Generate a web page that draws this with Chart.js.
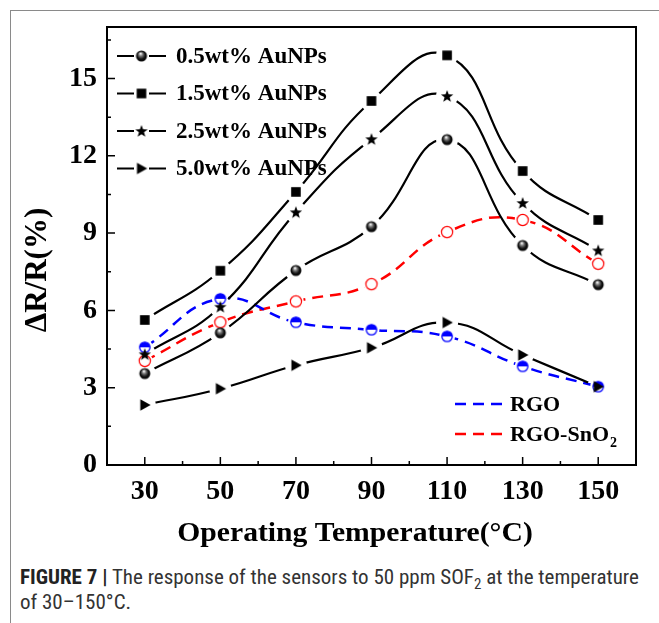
<!DOCTYPE html>
<html>
<head>
<meta charset="utf-8">
<script src="https://cdn.jsdelivr.net/npm/chart.js@4.4.1/dist/chart.umd.min.js"></script>
<style>
  html, body { margin: 0; padding: 0; background: #fff; }
  body { width: 659px; height: 623px; position: relative; overflow: hidden; }
  #frame { position: absolute; left: 10px; top: 10px; width: 660px; height: 620px;
           border-left: 1px solid #8a8a8a; border-top: 1px solid #8a8a8a; }
  #chart { position: absolute; left: 0; top: 0; }
  #caption { position: absolute; left: 20px; top: 565px; white-space: nowrap;
             font-family: "Liberation Sans Narrow", "Roboto Condensed", "DejaVu Sans Condensed", "Liberation Sans", sans-serif;
             font-size: 21px; line-height: 25px; color: #333; }
  #caption b { color: #222; }
  #caption sub { font-size: 15px; line-height: 0; }
</style>
</head>
<body>
<div id="frame"></div>
<canvas id="chart" width="659" height="560"></canvas>
<div id="caption"><b>FIGURE 7 |</b> The response of the sensors to 50 ppm SOF<sub>2</sub> at the temperature<br>of 30–150°C.</div>
<script>
// temperatures (°C) and responses ΔR/R (%)
const temps = [30, 50, 70, 90, 110, 130, 150];
const au05 = [3.55, 5.13, 7.55, 9.25, 12.63, 8.52, 7.0];
const au15 = [5.63, 7.54, 10.6, 14.13, 15.9, 11.41, 9.51];
const au25 = [4.3, 6.14, 9.81, 12.65, 14.32, 10.17, 8.33];
const au50 = [2.33, 2.96, 3.87, 4.55, 5.53, 4.27, 3.04];
const rgo = [4.57, 6.45, 5.54, 5.25, 4.99, 3.83, 3.04];
const rgoSn = [4.04, 5.54, 6.35, 7.02, 9.04, 9.51, 7.81];

const xTicks = [30, 50, 70, 90, 110, 130, 150];
const xMinor = [40, 60, 80, 100, 120, 140, 160];
const yTicks = [0, 3, 6, 9, 12, 15];
const yMinor = [1.5, 4.5, 7.5, 10.5, 13.5, 16.5];

const xTitle = 'Operating Temperature(°C)';
const yTitle = 'ΔR/R(%)';
const serif = '"Liberation Serif", "Times New Roman", serif';

// marker glyphs drawn on small canvases
function marker(kind) {
    const c = document.createElement('canvas');
    c.width = 16; c.height = 16;
    const g = c.getContext('2d');
    const m = 8;
    if (kind === 'sphere') {
        const grad = g.createRadialGradient(m - 1, m - 2.5, 0.3, m, m, 6);
        grad.addColorStop(0, '#ffffff');
        grad.addColorStop(0.3, '#777');
        grad.addColorStop(0.65, '#111');
        grad.addColorStop(1, '#000');
        g.fillStyle = grad;
        g.beginPath(); g.arc(m, m, 5.5, 0, Math.PI * 2); g.fill();
    } else if (kind === 'square') {
        g.fillStyle = '#000';
        g.fillRect(m - 4.8, m - 4.8, 9.6, 9.6);
    } else if (kind === 'star') {
        g.fillStyle = '#000';
        g.beginPath();
        for (let i = 0; i < 10; i++) {
            const r = i % 2 ? 2.7 : 6.5;
            const a = -Math.PI / 2 + i * Math.PI / 5;
            g.lineTo(m + r * Math.cos(a), m + 0.5 + r * Math.sin(a));
        }
        g.closePath(); g.fill();
    } else if (kind === 'triangle') {
        g.fillStyle = '#000';
        g.beginPath();
        g.moveTo(m - 4.5, m - 5.8); g.lineTo(m + 5.8, m); g.lineTo(m - 4.5, m + 5.8);
        g.closePath(); g.fill();
    } else if (kind === 'half') {
        g.fillStyle = '#fff';
        g.beginPath(); g.arc(m, m, 5.2, 0, Math.PI * 2); g.fill();
        g.fillStyle = '#0000ff';
        g.beginPath(); g.arc(m, m, 5.2, Math.PI, 0); g.closePath(); g.fill();
        g.strokeStyle = '#0000ff'; g.lineWidth = 1.3;
        g.beginPath(); g.arc(m, m, 5.2, 0, Math.PI * 2); g.stroke();
    } else if (kind === 'open') {
        g.fillStyle = '#fff';
        g.strokeStyle = '#ff0000'; g.lineWidth = 1.2;
        g.beginPath(); g.arc(m, m, 5.6, 0, Math.PI * 2); g.fill(); g.stroke();
    }
    return c;
}

const series = [
    { label: '0.5wt% AuNPs', data: au05, color: '#000', dash: [], width: 2.2, mk: marker('sphere') },
    { label: '1.5wt% AuNPs', data: au15, color: '#000', dash: [], width: 2.2, mk: marker('square') },
    { label: '2.5wt% AuNPs', data: au25, color: '#000', dash: [], width: 2.2, mk: marker('star') },
    { label: '5.0wt% AuNPs', data: au50, color: '#000', dash: [], width: 2.2, mk: marker('triangle') },
    { label: 'RGO', data: rgo, color: '#0000ff', dash: [11, 7], width: 2.5, mk: marker('half') },
    { label: 'RGO-SnO', sub: '2', data: rgoSn, color: '#ff0000', dash: [11, 7], width: 2.5, mk: marker('open') }
];

const datasets = [];
series.forEach(s => {
    const pts = temps.map((t, i) => ({ x: t, y: s.data[i] }));
    datasets.push({
        label: s.label, data: pts, showLine: true, borderColor: s.color,
        borderWidth: s.width, borderDash: s.dash, tension: 0.45,
        pointRadius: 0, fill: false, order: 2, gap: s.dash.length ? 8 : 11
    });
    datasets.push({
        label: s.label, data: pts, showLine: false,
        pointStyle: s.mk, pointRadius: 6, order: 1
    });
});

// cut the line around its own markers, like the original plot
const gapPlugin = {
    id: 'gaps',
    beforeDatasetDraw(chart, args) {
        const ds = chart.data.datasets[args.index];
        if (!ds.gap) return;
        const ctx = chart.ctx;
        ctx.save();
        ctx.beginPath();
        ctx.rect(0, 0, chart.width, chart.height);
        args.meta.data.forEach(p => {
            ctx.moveTo(p.x + ds.gap, p.y);
            ctx.arc(p.x, p.y, ds.gap, 0, Math.PI * 2);
        });
        ctx.clip('evenodd');
    },
    afterDatasetDraw(chart, args) {
        if (chart.data.datasets[args.index].gap) chart.ctx.restore();
    }
};

const decor = {
    id: 'decor',
    afterDraw(chart) {
        const { ctx, chartArea: a, scales: { x, y } } = chart;
        ctx.save();
        ctx.strokeStyle = '#000';
        ctx.lineWidth = 2;
        ctx.strokeRect(a.left, a.top, a.right - a.left, a.bottom - a.top);
        // inward ticks
        ctx.lineWidth = 1.5;
        ctx.beginPath();
        xTicks.forEach(v => { const px = x.getPixelForValue(v); ctx.moveTo(px, a.bottom); ctx.lineTo(px, a.bottom - 8); });
        xMinor.forEach(v => { const px = x.getPixelForValue(v); ctx.moveTo(px, a.bottom); ctx.lineTo(px, a.bottom - 4); });
        yTicks.forEach(v => { const py = y.getPixelForValue(v); ctx.moveTo(a.left, py); ctx.lineTo(a.left + 8, py); });
        yMinor.forEach(v => { const py = y.getPixelForValue(v); ctx.moveTo(a.left, py); ctx.lineTo(a.left + 4, py); });
        ctx.stroke();

        // legends
        ctx.fillStyle = '#000';
        ctx.textBaseline = 'middle';
        ctx.textAlign = 'left';
        series.slice(0, 4).forEach((s, i) => {
            const ly = 56 + i * 37.5;
            ctx.lineWidth = 2.2;
            ctx.beginPath();
            ctx.moveTo(117, ly); ctx.lineTo(134, ly);
            ctx.moveTo(149, ly); ctx.lineTo(166, ly);
            ctx.stroke();
            ctx.drawImage(s.mk, 141.5 - 8, ly - 8);
            ctx.font = 'bold 23px ' + serif;
            ctx.fillText(s.label, 176, ly + 1);
        });
        series.slice(4).forEach((s, i) => {
            const ly = 404 + i * 30;
            ctx.strokeStyle = s.color;
            ctx.lineWidth = 2.5;
            ctx.setLineDash(s.dash);
            ctx.beginPath(); ctx.moveTo(455, ly); ctx.lineTo(503, ly); ctx.stroke();
            ctx.setLineDash([]);
            ctx.font = 'bold 22px ' + serif;
            ctx.fillText(s.label, 510, ly + 1);
            if (s.sub) {
                const w = ctx.measureText(s.label).width;
                ctx.font = 'bold 14px ' + serif;
                ctx.fillText(s.sub, 510 + w + 1, ly + 9);
            }
        });

        // axis titles
        ctx.font = 'bold 28px ' + serif;
        ctx.textAlign = 'center';
        ctx.textBaseline = 'alphabetic';
        ctx.save();
        ctx.translate(355, 541);
        ctx.scale(1.06, 1);
        ctx.fillText(xTitle, 0, 0);
        ctx.restore();
        ctx.save();
        ctx.font = 'bold 31px ' + serif;
        ctx.textBaseline = 'middle';
        ctx.translate(38, 270);
        ctx.rotate(-Math.PI / 2);
        ctx.fillText(yTitle, 0, 0);
        ctx.restore();
        ctx.restore();
    }
};

const tickFont = { family: serif, size: 28, weight: 'bold' };

new Chart(document.getElementById('chart'), {
    type: 'scatter',
    data: { datasets: datasets },
    options: {
        responsive: false,
        animation: false,
        events: [],
        layout: { padding: { left: 0, top: 27, right: 23, bottom: 0 } },
        plugins: { legend: { display: false }, tooltip: { enabled: false } },
        scales: {
            x: {
                type: 'linear', min: 20, max: 160,
                afterBuildTicks: s => { s.ticks = xTicks.map(v => ({ value: v })); },
                afterFit: s => { s.height = 95; },
                grid: { drawOnChartArea: false, drawTicks: false },
                border: { display: true, color: '#000', width: 2 },
                ticks: { font: tickFont, color: '#000', padding: 10, autoSkip: false, maxRotation: 0 }
            },
            y: {
                min: 0, max: 17,
                afterBuildTicks: s => { s.ticks = yTicks.map(v => ({ value: v })); },
                afterFit: s => { s.width = 107; },
                grid: { drawOnChartArea: false, drawTicks: false },
                border: { display: true, color: '#000', width: 2 },
                ticks: { font: tickFont, color: '#000', padding: 10 }
            }
        }
    },
    plugins: [gapPlugin, decor]
});
</script>
</body>
</html>
